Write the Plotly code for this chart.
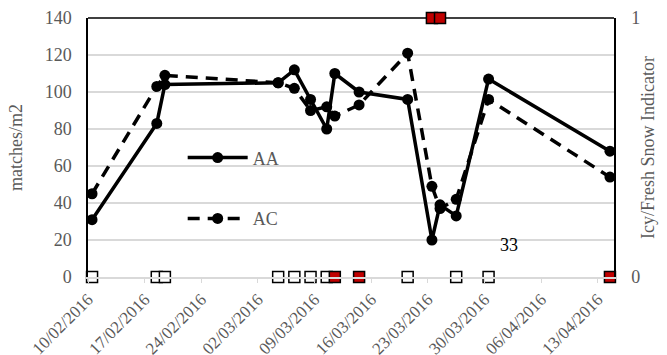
import pandas as pd
import plotly.graph_objects as go

# ---- data ----
dates = ["2016-02-10", "2016-02-18", "2016-02-19", "2016-03-04", "2016-03-06",
         "2016-03-08", "2016-03-10", "2016-03-11", "2016-03-14", "2016-03-20",
         "2016-03-23", "2016-03-24", "2016-03-26", "2016-03-30", "2016-04-14"]
aa = [31, 83, 104, 105, 112, 96, 80, 110, 100, 96, 20, 39, 33, 107, 68]
ac = [45, 103, 109, 105, 102, 90, 92, 87, 93, 121, 49, 37, 42, 96, 54]

icy_dates = ["2016-02-10", "2016-02-18", "2016-02-19", "2016-03-04", "2016-03-06",
             "2016-03-08", "2016-03-10", "2016-03-20", "2016-03-26", "2016-03-30"]
icy_vals = [0, 0, 0, 0, 0, 0, 0, 0, 0, 0]
fresh_dates = ["2016-03-11", "2016-03-14", "2016-03-23", "2016-03-24", "2016-04-14"]
fresh_vals = [0, 0, 1, 1, 0]

tick_dates = ["2016-02-10", "2016-02-17", "2016-02-24", "2016-03-02", "2016-03-09",
              "2016-03-16", "2016-03-23", "2016-03-30", "2016-04-06", "2016-04-13"]
y_ticks = [0, 20, 40, 60, 80, 100, 120, 140]

label_text = "33"
label_date = "2016-04-02 02:00"
label_y = 17.3

# ---- helpers ----
half_day = pd.Timedelta(hours=12)
def mid(ds):
    return [pd.Timestamp(d) + half_day for d in ds]

FONT = "Times New Roman, Liberation Serif, DejaVu Serif, serif"
GREY = "#595959"

fig = go.Figure()
fig.add_trace(go.Scatter(
    x=mid(dates), y=aa, name="AA", mode="lines+markers",
    line=dict(color="black", width=3.5),
    marker=dict(symbol="circle", size=11, color="black"),
    legend="legend"))
fig.add_trace(go.Scatter(
    x=mid(dates), y=ac, name="AC", mode="lines+markers",
    line=dict(color="black", width=3.5, dash="12px,8px"),
    marker=dict(symbol="circle", size=11, color="black"),
    legend="legend2"))
fig.add_trace(go.Scatter(
    x=mid(icy_dates), y=icy_vals, yaxis="y2", mode="markers", showlegend=False,
    marker=dict(symbol="square", size=11, color="white",
                line=dict(color="black", width=1.5)),
    cliponaxis=False))
fig.add_trace(go.Scatter(
    x=mid(fresh_dates), y=fresh_vals, yaxis="y2", mode="markers", showlegend=False,
    marker=dict(symbol="square", size=11, color="#C00000",
                line=dict(color="black", width=1.5)),
    cliponaxis=False))

fig.add_annotation(x=pd.Timestamp(label_date), y=label_y, text=label_text,
                   showarrow=False, font=dict(family=FONT, size=18, color="black"))

fig.update_layout(
    width=667, height=355,
    margin=dict(l=88, r=53, t=18, b=78, autoexpand=False),
    paper_bgcolor="white", plot_bgcolor="white",
    font=dict(family=FONT, size=18, color=GREY),
    hovermode=False,
    xaxis=dict(
        type="date", automargin=False,
        range=[pd.Timestamp("2016-02-10"), pd.Timestamp("2016-04-15")],
        tickvals=[pd.Timestamp(d) for d in tick_dates],
        ticktext=[pd.Timestamp(d).strftime("%d/%m/%Y") for d in tick_dates],
        tickangle=-45, tickfont=dict(family=FONT, size=17, color=GREY),
        showgrid=False, showline=True, linecolor="#d9d9d9", linewidth=1.5,
        ticks="outside", ticklen=4, tickcolor="#d9d9d9", zeroline=False),
    yaxis=dict(
        automargin=False,
        range=[0, 140], tickvals=y_ticks, showgrid=True, gridcolor="#d9d9d9",
        gridwidth=1.5, zeroline=False, showline=True, linecolor="black",
        linewidth=1.5, ticks="", ticklabelstandoff=11,
        title=dict(text="matches/m2", standoff=17,
                   font=dict(family=FONT, size=18, color=GREY)),
        tickfont=dict(family=FONT, size=18, color=GREY)),
    yaxis2=dict(
        automargin=False,
        overlaying="y", side="right", range=[0, 1], tickvals=[0, 1],
        showgrid=False, zeroline=False, showline=True, linecolor="black",
        linewidth=1.5, ticks="", ticklabelstandoff=12,
        title=dict(text="Icy/Fresh Snow Indicator", standoff=2,
                   font=dict(family=FONT, size=18, color=GREY)),
        tickfont=dict(family=FONT, size=18, color=GREY)),
    legend=dict(x=0.18, y=0.46, xanchor="left", yanchor="middle",
                bgcolor="rgba(0,0,0,0)", itemwidth=60,
                font=dict(family=FONT, size=18, color=GREY)),
    legend2=dict(x=0.18, y=0.225, xanchor="left", yanchor="middle",
                 bgcolor="rgba(0,0,0,0)", itemwidth=60,
                 font=dict(family=FONT, size=18, color=GREY)),
    shapes=[dict(type="line", xref="paper", yref="paper", x0=0, x1=1, y0=1, y1=1,
                 line=dict(color="black", width=1.5), layer="below")],
)

fig.write_html("out.html", config={"displayModeBar": False},
               post_script="document.body.style.margin='0';document.body.style.overflow='hidden';")
